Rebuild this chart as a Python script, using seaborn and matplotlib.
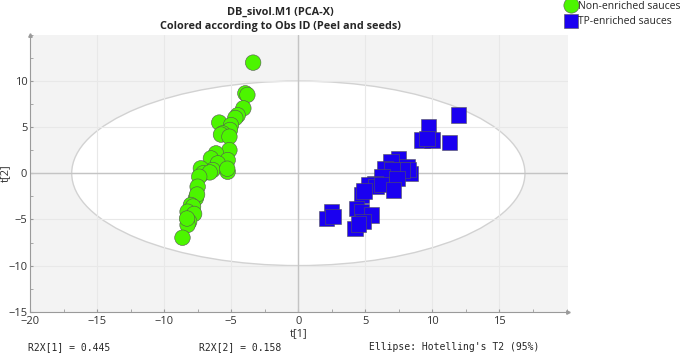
import seaborn as sns
import pandas as pd
import matplotlib.pyplot as plt
from matplotlib.patches import Ellipse
from matplotlib.ticker import MultipleLocator

# score values
green_t1 = [-3.37, -3.95, -3.8, -4.1, -4.52, -4.7, -5.9, -5.02, -5.1, -5.64, -5.77, -5.14,
            -5.14, -6.14, -6.52, -5.27, -6.0, -6.0, -6.39, -5.27, -5.3, -7.27, -7.1, -6.6,
            -7.39, -7.51, -7.64, -7.55, -8.01, -7.85, -8.26, -7.77, -8.14, -8.26, -8.3, -8.64]
green_t2 = [12.0, 8.67, 8.5, 7.05, 6.3, 6.0, 5.5, 5.23, 4.7, 4.33, 4.2, 3.97,
            2.52, 2.16, 1.62, 1.44, 0.9, 1.08, 0.36, 0.17, 0.5, 0.54, 0.0, 0.1,
            -0.37, -1.45, -2.7, -2.3, -3.43, -3.6, -4.16, -4.4, -5.24, -5.6, -4.9, -6.98]
blue_t1 = [11.96, 9.72, 9.21, 9.96, 9.6, 11.29, 7.47, 6.92, 8.09, 8.34, 8.2, 6.47,
           7.72, 6.97, 6.22, 7.34, 5.72, 5.22, 5.8, 6.2, 7.09, 4.72, 4.9, 4.34,
           4.72, 5.47, 4.84, 4.22, 4.5, 2.47, 2.1, 2.6]
blue_t2 = [6.3, 5.05, 3.6, 3.6, 3.8, 3.35, 1.62, 1.26, 0.72, 0.0, 0.4, 0.54,
           0.36, 0.36, -0.37, -0.54, -1.08, -1.27, -1.45, -1.2, -1.81, -2.35, -1.9, -3.8,
           -4.16, -4.52, -5.24, -5.96, -5.5, -4.16, -4.88, -4.7]
groups = ["Non-enriched sauces", "TP-enriched sauces"]
x_ticks = [-20, -15, -10, -5, 0, 5, 10, 15]
y_ticks = [-15, -10, -5, 0, 5, 10]
r2x = [0.445, 0.158]
ellipse_axes = [16.9, 10.0]

df = pd.DataFrame({
    "t1": green_t1 + blue_t1,
    "t2": green_t2 + blue_t2,
    "group": [groups[0]] * len(green_t1) + [groups[1]] * len(blue_t1),
})

sns.set_style("white")
plt.rcParams["font.family"] = ["Open Sans", "DejaVu Sans"]

fig = plt.figure(figsize=(6.85, 3.53), dpi=100)
ax = fig.add_axes([0.044, 0.117, 0.785, 0.784])
ax.set_facecolor("#f3f3f3")

# Hotelling's T2 ellipse
ax.add_patch(Ellipse((0, 0), 2 * ellipse_axes[0], 2 * ellipse_axes[1],
                     facecolor="white", edgecolor="#d2d2d2", lw=1, zorder=0.2))
ax.axhline(0, color="#c4c4c4", lw=1, zorder=1)
ax.axvline(0, color="#c4c4c4", lw=1, zorder=1)

sns.scatterplot(data=df, x="t1", y="t2", hue="group", style="group",
                palette={groups[0]: "#4cf500", groups[1]: "#1a00f0"},
                markers={groups[0]: "o", groups[1]: "s"},
                s=125, edgecolor="#555555", linewidth=0.4, ax=ax, zorder=3, legend=False)

ax.set_xlim(-20, 20.1)
ax.set_ylim(-15, 15)
ax.set_xticks(x_ticks)
ax.set_yticks(y_ticks)
ax.xaxis.set_minor_locator(MultipleLocator(2.5))
ax.yaxis.set_minor_locator(MultipleLocator(2.5))
ax.grid(True, which="major", color="#e8e8e8", lw=0.8)
ax.set_axisbelow(True)
for side in ["top", "right"]:
    ax.spines[side].set_visible(False)
for side in ["left", "bottom"]:
    ax.spines[side].set_color("#9a9a9a")
    ax.spines[side].set_linewidth(0.8)
# small arrow heads at the axis ends
ax.plot(1, 0, ">", ms=2.5, color="#9a9a9a", transform=ax.transAxes, clip_on=False)
ax.plot(0, 1, "^", ms=2.5, color="#9a9a9a", transform=ax.transAxes, clip_on=False)
ax.tick_params(which="both", direction="in", color="#9a9a9a", labelsize=8,
               labelcolor="#333333", length=2, pad=2)
ax.tick_params(which="both", left=True, bottom=True)
ax.tick_params(axis="x", pad=3)
ax.set_xlabel("t[1]", fontsize=8, color="#333333", labelpad=1)
ax.set_ylabel("t[2]", fontsize=8, color="#333333")
ax.yaxis.set_label_coords(-0.036, 0.5)

fig.text(0.409, 0.966, "DB_sivol.M1 (PCA-X)", ha="center", va="center",
         fontsize=7.8, fontweight="bold")
fig.text(0.409, 0.924, "Colored according to Obs ID (Peel and seeds)", ha="center",
         va="center", fontsize=7.8, fontweight="bold")

# legend outside at top right
handles = [plt.Line2D([], [], marker="o", ls="", color="#4cf500", markersize=11,
                      markeredgecolor="#555555", markeredgewidth=0.4),
           plt.Line2D([], [], marker="s", ls="", color="#1a00f0", markersize=10,
                      markeredgecolor="#555555", markeredgewidth=0.4)]
fig.legend(handles, groups, loc="upper left", bbox_to_anchor=(0.82, 1.01), frameon=False,
           fontsize=7.5, handletextpad=0.2, handlelength=1.0, labelspacing=0.45,
           borderaxespad=0)

mono = ["DejaVu Sans Mono"]
fig.text(0.041, 0.017, "R2X[1] = %.3f" % r2x[0], fontsize=7, family=mono, va="center")
fig.text(0.290, 0.017, "R2X[2] = %.3f" % r2x[1], fontsize=7, family=mono, va="center")
fig.text(0.539, 0.017, "Ellipse: Hotelling's T2 (95%)", fontsize=7, family=mono,
         va="center")

fig.savefig("out.png", dpi=100)
